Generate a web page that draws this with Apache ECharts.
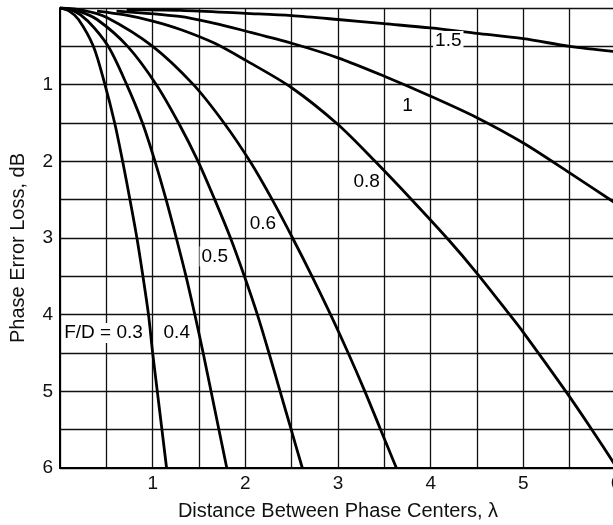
<!DOCTYPE html>
<html>
<head>
<meta charset="utf-8">
<script src="https://cdn.jsdelivr.net/npm/echarts@6/dist/echarts.min.js"></script>
<style>html,body{margin:0;padding:0;background:#fff;}#c{width:613px;height:525px;}</style>
</head>
<body>
<div id="c"></div>
<script>
// ---- data (x = distance in wavelengths, y = loss in dB) ----
const curveNames = ['F/D = 0.3', '0.4', '0.5', '0.6', '0.8', '1', '1.5'];
const fd03 = [[0,0],[0.1,0.04],[0.2,0.15],[0.36,0.5],[0.485,1],[0.59,1.5],[0.676,2],[0.755,2.5],[0.83,3],[0.895,3.5],[0.955,4],[1.0,4.5],[1.05,5],[1.1,5.5],[1.15,6]];
const fd04 = [[0,0],[0.15,0.04],[0.3,0.17],[0.52,0.5],[0.72,1],[0.89,1.5],[1.025,2],[1.145,2.5],[1.255,3],[1.36,3.5],[1.455,4],[1.545,4.5],[1.63,5],[1.715,5.5],[1.80,6]];
const fd05 = [[0,0],[0.2,0.04],[0.4,0.15],[0.73,0.5],[1.04,1],[1.28,1.5],[1.49,2],[1.67,2.5],[1.84,3],[1.99,3.5],[2.13,4],[2.255,4.5],[2.375,5],[2.495,5.5],[2.615,6]];
const fd06 = [[0,0],[0.25,0.03],[0.5,0.12],[1.0,0.5],[1.44,1],[1.77,1.5],[2.05,2],[2.29,2.5],[2.51,3],[2.72,3.5],[2.92,4],[3.11,4.5],[3.29,5],[3.46,5.5],[3.63,6]];
const fd08 = [[0.4,0.04],[0.7,0.09],[1.0,0.17],[1.3,0.28],[1.67,0.46],[2,0.68],[2.5,1.04],[3,1.52],[3.4,2.0],[3.81,2.52],[4.19,3.02],[4.5,3.46],[4.84,3.98],[5.0,4.23],[5.47,5.02],[5.74,5.5],[6.0,5.98]];
const fd10 = [[0.61,0.04],[1.29,0.11],[1.67,0.2],[2,0.3],[2.5,0.46],[3,0.65],[3.5,0.89],[4,1.15],[4.5,1.43],[5,1.76],[5.5,2.15],[6,2.55]];
const fd15 = [[0.72,0.02],[1.3,0.03],[2,0.07],[2.5,0.1],[3,0.15],[3.5,0.205],[4,0.26],[4.5,0.33],[5,0.40],[5.5,0.5],[6,0.57]];
const xTickLabels = ['1','2','3','4','5','6'];
const yTickLabels = ['1','2','3','4','5','6'];
const xTitle = 'Distance Between Phase Centers, \u03bb';
const yTitle = 'Phase Error Loss, dB';

const curves = [fd03, fd04, fd05, fd06, fd08, fd10, fd15];
// label anchor points (in axis units) for each curve's text
const labelAnchors = [[0.47,4.24],[1.26,4.23],[1.67,3.24],[2.19,2.81],[3.31,2.26],[3.75,1.27],[4.19,0.43]];

const FONT = '"Liberation Sans", Arial, Helvetica, sans-serif';

function tickFmt(labels) {
  return function (v) {
    const i = Math.round(v);
    if (Math.abs(v - i) > 1e-6 || i < 1) return '';
    return labels[i - 1] || '';
  };
}

const series = curves.map(function (d, k) {
  return {
    type: 'line',
    data: d,
    smooth: 0.3,
    showSymbol: false,
    silent: true,
    z: 3,
    lineStyle: { color: '#000', width: 2.8 },
    markPoint: {
      symbol: 'rect',
      symbolSize: 0,
      silent: true,
      data: [{ coord: labelAnchors[k], value: curveNames[k] }],
      label: {
        show: true,
        position: 'inside',
        formatter: curveNames[k],
        color: '#000',
        fontFamily: FONT,
        fontSize: 19,
        backgroundColor: '#fff',
        padding: [1, 2, 0, 2]
      }
    }
  };
});

const chart = echarts.init(document.getElementById('c'), null, { renderer: 'canvas' });
chart.setOption({
  animation: false,
  backgroundColor: '#fff',
  grid: { left: 60, top: 8, width: 556, height: 460, containLabel: false, outerBoundsMode: 'none' },
  xAxis: {
    type: 'value', min: 0, max: 6, interval: 0.5,
    name: xTitle, nameLocation: 'middle', nameGap: 33,
    nameTextStyle: { fontFamily: FONT, fontSize: 20, color: '#111' },
    axisLine: { show: true, onZero: false, lineStyle: { color: '#000', width: 2 } },
    axisTick: { show: false },
    axisLabel: { formatter: tickFmt(xTickLabels), fontFamily: FONT, fontSize: 19, color: '#111', margin: 6, hideOverlap: false },
    splitLine: { show: true, lineStyle: { color: '#111', width: 1.3 } }
  },
  yAxis: {
    type: 'value', min: 0, max: 6, interval: 0.5, inverse: true,
    name: yTitle, nameLocation: 'middle', nameGap: 32,
    nameTextStyle: { fontFamily: FONT, fontSize: 20, color: '#111', padding: [0, 20, 0, 0] },
    axisLine: { show: true, onZero: false, lineStyle: { color: '#000', width: 2 } },
    axisTick: { show: false },
    axisLabel: { formatter: tickFmt(yTickLabels), fontFamily: FONT, fontSize: 19, color: '#111', margin: 7 },
    splitLine: { show: true, lineStyle: { color: '#111', width: 1.3 } }
  },
  series: series
});
</script>
</body>
</html>
